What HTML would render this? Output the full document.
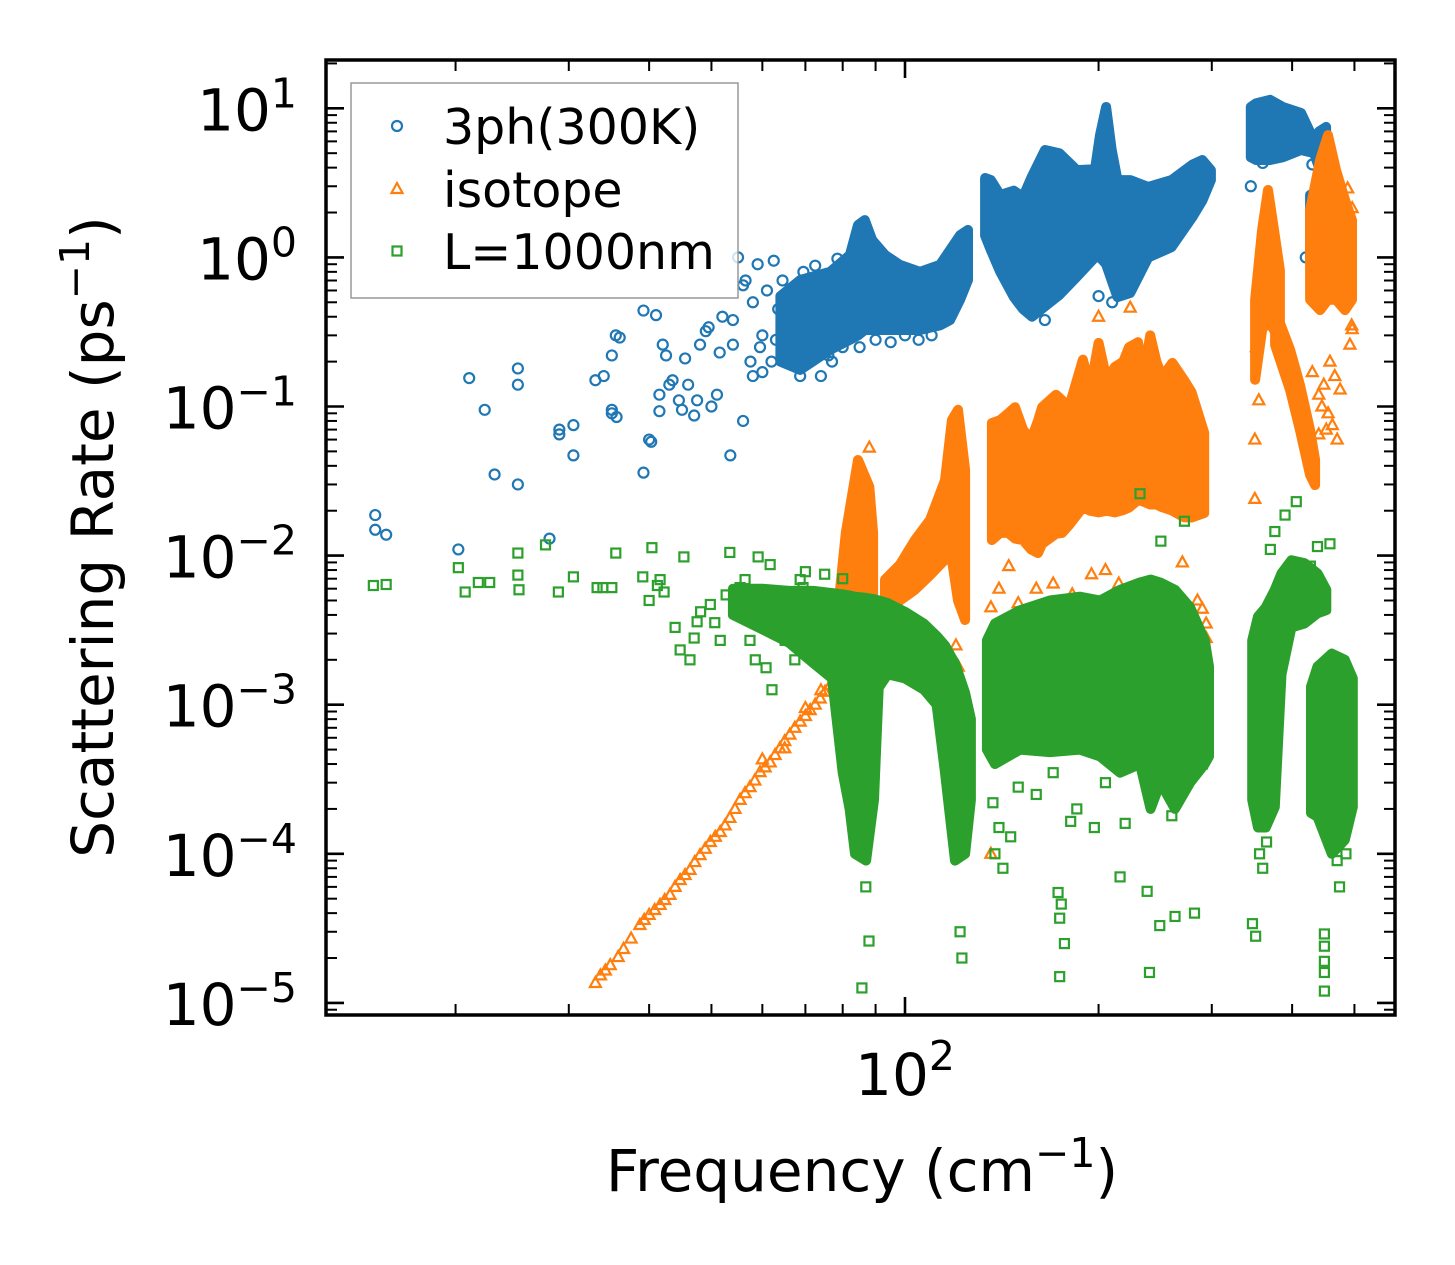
<!DOCTYPE html>
<html><head><meta charset="utf-8"><title>Scattering Rate vs Frequency</title>
<style>html,body{margin:0;padding:0;background:#fff;}svg{display:block;font-family:"DejaVu Sans","Liberation Sans",sans-serif;}</style>
</head><body>
<svg id="chart" xmlns="http://www.w3.org/2000/svg" width="1455" height="1265" viewBox="0 0 1455 1265">
<rect x="0" y="0" width="1455" height="1265" fill="#fff"/>
<defs><clipPath id="plotclip"><rect x="326" y="60" width="1069" height="955"/></clipPath></defs>
<g id="marks" clip-path="url(#plotclip)"></g>
<g id="axes"></g>
</svg>
<script>
// ---- data (frequency cm^-1, scattering rate ps^-1) ----
const blueScatter = [[15,0.0187],[15,0.0149],[15.6,0.0138],[20.2,0.011],[21,0.155],[22.2,0.095],[23,0.035],[25,0.18],[25,0.14],[25,0.03],[28,0.013],[29,0.07],[29,0.065],[30.5,0.047],[30.5,0.075],[33,0.15],[34,0.16],[35,0.22],[35.5,0.3],[36,0.29],[35,0.095],[35.6,0.085],[35,0.09],[39.2,0.036],[39.2,0.44],[40,0.06],[40.3,0.058],[41,0.41],[41.5,0.093],[41.5,0.12],[42,0.26],[42.5,0.22],[43,0.14],[43.5,0.15],[44.5,0.11],[45,0.095],[45.5,0.21],[46,0.14],[47,0.087],[47.5,0.11],[48,0.26],[49,0.32],[49.5,0.34],[50,0.1],[51,0.12],[51.5,0.23],[53.5,0.047],[54,0.38],[55,1.0],[56,0.65],[56.5,0.7],[56,0.08],[57.5,0.2],[58,0.16],[59,0.9],[59.5,0.25],[60,0.3],[61,0.6],[62,0.2],[62.5,0.95],[63.5,0.45],[64.5,0.7],[65.5,0.32],[66.5,0.52],[67.5,0.24],[68.7,0.16],[69.5,0.8],[70.5,0.6],[71.5,0.45],[72.5,0.88],[74,0.16],[74,0.52],[75,0.75],[76,0.22],[77.5,0.32],[78.5,0.98],[79.5,0.6],[81,0.32],[82,0.88],[54,0.26],[52,0.4],[58,0.5],[60,0.17],[63,0.28],[66,0.2],[70,0.25],[73,0.3],[77,0.2],[80,0.25],[85,0.25],[90,0.28],[95,0.27],[100,0.3],[105,0.28],[110,0.3],[165,0.38],[200,0.55],[210,0.5],[360,4.3],[430,4.2],[345,3.0],[420,1.0],[445,0.75],[470,0.65]];
const orangeScatter = [[33,1.36e-5],[33.6,1.53e-5],[34.2,1.65e-5],[34.8,1.79e-5],[35.8,2.03e-5],[36.5,2.3e-5],[37.5,2.7e-5],[38.7,3.33e-5],[39.3,3.6e-5],[40,3.89e-5],[40.8,4.2e-5],[41.6,4.54e-5],[42.3,4.9e-5],[43.1,5.3e-5],[43.9,6e-5],[44.7,6.67e-5],[45.5,7.2e-5],[46.3,7.8e-5],[47.1,8.8e-5],[48,9.8e-5],[48.9,1.08e-4],[49.8,1.2e-4],[50.7,1.3e-4],[51.6,1.4e-4],[52.5,1.55e-4],[53.4,1.74e-4],[54.4,2e-4],[55.4,2.3e-4],[56.4,2.55e-4],[57.4,2.8e-4],[58.4,3.1e-4],[59.5,3.53e-4],[60,4.3e-4],[60.6,3.8e-4],[61.7,4.1e-4],[62.8,4.6e-4],[63.9,5.1e-4],[65,5.7e-4],[65,5.1e-4],[66.2,6.3e-4],[67.4,7e-4],[68.7,7.7e-4],[70,8.4e-4],[70,9.5e-4],[71.2,9.2e-4],[72.5,1.0e-3],[73.8,1.1e-3],[74,1.25e-3],[75.1,1.22e-3],[76.5,1.35e-3],[77.6,1.5e-3],[78.7,1.65e-3],[88,0.053],[200,0.40],[224,0.46],[350,0.06],[350,0.024],[352,0.25],[355,0.11],[136,0.0045],[138,0.003],[140,0.006],[145,0.0085],[150,0.0048],[160,0.006],[170,0.0065],[182,0.0055],[195,0.0075],[205,0.008],[215,0.0065],[230,0.0055],[250,0.006],[270,0.009],[285,0.005],[290,0.0044],[294,0.0028],[294,0.0035],[136,1e-4],[121,1.8e-3],[122,1.2e-3],[120,2.5e-3],[89,1e-3],[488,2.9],[496,2.14],[496,0.33],[492,0.26],[430,0.17],[440,0.12],[445,0.1],[455,0.09],[462,0.075],[470,0.06],[448,0.14],[458,0.2],[466,0.16],[475,0.13],[452,0.07],[440,0.065],[480,0.9],[490,1.5],[495,0.35]];
const greenScatter = [[14.9,6.3e-3],[15.6,6.4e-3],[20.2,8.3e-3],[20.7,5.7e-3],[21.7,6.6e-3],[22.6,6.6e-3],[25,0.0104],[25,7.4e-3],[25.1,5.9e-3],[27.6,0.0118],[28.9,5.7e-3],[30.5,7.2e-3],[33.2,6.1e-3],[33.9,6.1e-3],[35,6.1e-3],[35.5,0.0104],[39.1,7.2e-3],[40,5e-3],[40.4,0.0113],[41.2,6.3e-3],[41.6,6.9e-3],[42.2,5.7e-3],[43.9,3.3e-3],[44.7,2.33e-3],[45.3,9.8e-3],[46.3,2e-3],[47,2.8e-3],[47.5,3.6e-3],[48.1,4.2e-3],[49.8,4.7e-3],[50.6,3.55e-3],[51.6,2.7e-3],[52.7,5.45e-3],[53.4,0.0105],[54.4,5e-3],[55.4,6.1e-3],[56.4,6.9e-3],[57.4,2.7e-3],[58.5,2e-3],[59.1,9.8e-3],[59.9,4.7e-3],[60.8,1.77e-3],[61.7,8.7e-3],[62.1,1.26e-3],[63.9,5.45e-3],[65.1,2.7e-3],[66.2,3.6e-3],[67.4,2e-3],[68.7,6.9e-3],[69.4,6.1e-3],[232,0.026],[272,0.017],[250,0.0125],[406,0.023],[390,0.0187],[376,0.0145],[370,0.011],[458,0.012],[438,0.0115],[427,0.0085],[85.7,1.26e-5],[87.9,2.6e-5],[86.9,6e-5],[121.8,3e-5],[122.6,2e-5],[173,5.5e-5],[174,3.7e-5],[175,4.6e-5],[177,2.5e-5],[174,1.5e-5],[238,5.6e-5],[249,3.3e-5],[263,3.8e-5],[282,4.0e-5],[240,1.6e-5],[347,3.4e-5],[351,2.8e-5],[449,2.9e-5],[449,2.4e-5],[449,1.9e-5],[449,1.6e-5],[449,1.2e-5],[474,6e-5],[197,1.5e-4],[181,1.65e-4],[146,1.3e-4],[216,7e-5],[137,2.2e-4],[140,1.5e-4],[138,1e-4],[142,8e-5],[150,2.8e-4],[160,2.5e-4],[170,3.5e-4],[185,2e-4],[205,3e-4],[220,1.6e-4],[240,2.5e-4],[260,1.8e-4],[275,3e-4],[290,4e-4],[356,1e-4],[360,8e-5],[365,1.2e-4],[470,9e-5],[485,1e-4],[75,7.5e-3],[70,7.8e-3],[80,7e-3]];
// dense clusters: [frequency, lower rate, upper rate]
const blueBand1 = [[64,0.2,0.55],[68.7,0.176,0.705],[76.5,0.24,0.80],[82.1,0.28,1.04],[84.5,0.30,1.65],[86.6,0.326,1.78],[88.9,0.326,1.31],[93.1,0.326,1.04],[98.2,0.326,0.89],[105.5,0.326,0.80],[113.3,0.35,0.89],[117.5,0.38,1.12],[121.8,0.52,1.41],[125.3,0.705,1.53]];
const blueBand2 = [[133.2,1.4,3.41],[136,1.12,3.3],[140.6,0.8,2.62],[147.7,0.542,2.8],[152.6,0.45,2.54],[157.6,0.40,3.5],[165.1,0.47,5.25],[173.8,0.56,5.0],[185,0.74,3.85],[197.5,1.0,3.9],[201,1.0,6.6],[205.5,0.9,10.2],[209.6,0.7,5.25],[214,0.542,3.3],[224,0.577,3.3],[239,1.0,2.97],[259.7,1.17,3.3],[280,1.87,4.2],[290,2.4,4.5],[299,3.3,3.85]];
const blueBand3 = [[345,4.7,10.2],[351.5,4.5,10.8],[369.6,4.5,11.4],[387,4.7,10.2],[413,5.25,9.3],[432.6,5.0,6.1],[440.5,4.0,7.0],[451.8,4.7,7.5]];
const blueBand4 = [[426.6,0.96,2.62],[440,0.8,2.83],[458,0.705,2.83],[475,0.6,2.4],[492,0.56,1.92]];
const orangeBand1 = [[78,1.6e-3,3e-3],[80.9,2.33e-3,0.0142],[84.5,2.7e-3,0.0438],[88,2.7e-3,0.029],[89.2,2.7e-3,0.0142]];
const orangeBand2 = [[93.1,3.7e-3,6.9e-3],[98.2,5e-3,8.7e-3],[103.6,5.9e-3,0.0127],[109.4,7.4e-3,0.0174],[115.4,9.4e-3,0.032],[118.3,9.4e-3,0.081],[120.9,5e-3,0.095],[124,3.7e-3,0.0376]];
const orangeBand3 = [[136.5,0.0127,0.0774],[140.6,0.0142,0.081],[144.7,0.0142,0.09],[148.3,0.013,0.099],[152.6,0.0127,0.07],[157,0.011,0.0597],[161,0.0104,0.08],[163.4,0.012,0.099],[171.7,0.014,0.12],[175.5,0.0142,0.11],[179.9,0.016,0.099],[189.1,0.0211,0.206],[194,0.02,0.13],[200,0.0195,0.267],[206,0.02,0.15],[212,0.0195,0.184],[218.5,0.0202,0.2],[223,0.021,0.25],[230.3,0.0236,0.27],[235,0.023,0.16],[240.6,0.022,0.30],[246,0.022,0.2],[251.1,0.0211,0.158],[260.5,0.02,0.196],[271.7,0.0181,0.15],[279,0.018,0.125],[292,0.0193,0.0665]];
const orangeBand4 = [[350.3,0.151,0.52],[359.2,0.326,1.53],[366.9,0.38,2.83],[374.9,0.326,1.53],[382.8,0.326,0.82]];
const orangeBand5 = [[376.3,0.258,0.443],[397.1,0.129,0.24],[411.5,0.0695,0.139],[426.6,0.0347,0.0695],[434.3,0.0297,0.0438]];
const orangeBand6 = [[426.6,0.52,2.08],[442.1,0.443,4.5],[454.9,0.52,6.6],[468.1,0.52,3.85],[483.4,0.443,2.43],[495.7,0.52,1.78]];
const greenBand1 = [[54,4.0e-3,6.0e-3],[60,3.2e-3,6.0e-3],[66,2.6e-3,5.8e-3],[72,1.9e-3,5.8e-3],[77,1.5e-3,5.6e-3],[80,3.5e-4,5.5e-3],[82,2.0e-4,5.4e-3],[83.6,1.0e-4,5.3e-3],[87,9e-5,5.2e-3],[89.5,2.3e-4,5.1e-3],[91,1.3e-3,5.0e-3],[94,1.6e-3,4.8e-3],[100,1.5e-3,4.2e-3],[107,1.26e-3,3.5e-3],[112,1.0e-3,2.9e-3],[115.4,3.5e-4,2.5e-3],[118,1.5e-4,2.1e-3],[119.6,9e-5,1.9e-3],[124,1e-4,1.2e-3],[126.6,2.3e-4,8e-4]];
const greenBand2 = [[134.1,5e-4,2.7e-3],[138,4e-4,3.5e-3],[151,5e-4,4.3e-3],[168,4.8e-4,5e-3],[187,5e-4,5.3e-3],[201,4.5e-4,5e-3],[216,3.5e-4,5.9e-3],[232,4e-4,6.6e-3],[241,2e-4,6.9e-3],[249.5,3e-4,6.6e-3],[263,2e-4,5.9e-3],[277.6,3e-4,4.5e-3],[292.6,4e-4,2.7e-3],[297,4.5e-4,1.8e-3]];
const greenBand3 = [[346.7,2.3e-4,2.7e-3],[354,1.5e-4,3.9e-3],[364,1.5e-4,4.5e-3],[376,2.06e-4,5.9e-3],[385,1.6e-3,7.6e-3],[399,3.3e-3,9.3e-3],[418,3.5e-3,8.9e-3],[438,4.1e-3,7.6e-3],[452,4.3e-3,5.9e-3]];
const greenBand4 = [[428,1.88e-4,1.32e-3],[438,1.77e-4,1.8e-3],[461,1.0e-4,2.2e-3],[483,1.24e-4,2.0e-3],[497,2.06e-4,1.5e-3]];
const xMinorTicks = [20,30,40,50,60,70,80,90,200,300,400,500];
const xMajorTicks = [100];
const xTickExps = ["2"];
const yTickExps = [-5,-4,-3,-2,-1,0,1];
const yTickLabels = ["\u22125","\u22124","\u22123","\u22122","\u22121","0","1"];
const legendLabels = ["3ph(300K)","isotope","L=1000nm"];

// ---- axis functions ----
const X0 = 905, XD = 643, Y1 = 108.3, YD = 149.1;
function X(f){ return X0 + XD*Math.log10(f/100); }
function Y(r){ return Y1 + YD*(1 - Math.log10(r)); }

const NS = "http://www.w3.org/2000/svg";
const marks = document.getElementById('marks');
const axes = document.getElementById('axes');
function mk(tag, attrs, parent){ const e=document.createElementNS(NS,tag); for(const k in attrs) e.setAttribute(k,attrs[k]); parent.appendChild(e); return e; }

const BLUE="#1f77b4", ORANGE="#ff7f0e", GREEN="#2ca02c";

function band(data, color, name, parent){
  const top = data.map(d=>X(d[0]).toFixed(1)+","+Y(d[2]).toFixed(1));
  const bot = data.slice().reverse().map(d=>X(d[0]).toFixed(1)+","+Y(d[1]).toFixed(1));
  const p = mk('polygon',{points: top.concat(bot).join(' '), fill: color, stroke: color, 'stroke-width': 10, 'stroke-linejoin':'round'}, parent);
  
  
}
function marker(kind, cx, cy, color, parent){
  let e;
  if(kind==='circle') e = mk('circle',{cx:cx,cy:cy,r:5,fill:'none',stroke:color,'stroke-width':2.2},parent);
  else if(kind==='tri') e = mk('polygon',{points:`${cx},${cy-6} ${cx-5.5},${cy+4} ${cx+5.5},${cy+4}`,fill:'none',stroke:color,'stroke-width':2.2,'stroke-linejoin':'miter'},parent);
  else e = mk('rect',{x:cx-4.5,y:cy-4.5,width:9,height:9,fill:'none',stroke:color,'stroke-width':2.2},parent);
  return e;
}
function series(name, kind, color, pts, bands){
  const g = mk('g',{},marks);
  
  
  bands.forEach((b,i)=>band(b,color,name+'-cluster-'+(i+1),g));
  pts.forEach(d=>{
    const e = marker(kind, X(d[0]), Y(d[1]), color, g);
    
    
  });
}
series('three-phonon','circle',BLUE,blueScatter,[blueBand1,blueBand2,blueBand3,blueBand4]);
series('isotope','tri',ORANGE,orangeScatter,[orangeBand1,orangeBand2,orangeBand3,orangeBand4,orangeBand5,orangeBand6]);
series('boundary','square',GREEN,greenScatter,[greenBand1,greenBand2,greenBand3,greenBand4]);

// ---- legend ----
const lg = mk('g',{},document.getElementById('chart'));


mk('rect',{x:351,y:83,width:387,height:215,fill:'#fff','fill-opacity':0.8,stroke:'#999','stroke-width':1.5},lg);
const kinds=['circle','tri','square'], cols=[BLUE,ORANGE,GREEN], rowsY=[126,189,251];
legendLabels.forEach((t,i)=>{
  const m = marker(kinds[i],397,rowsY[i],cols[i],lg);
  
  
  const tx = mk('text',{x:443,y:rowsY[i]+18,'font-size':49,fill:'#000'},lg);
  tx.textContent = t;
  
  
});

// ---- axes frame, ticks, labels ----
const L=326,R=1395,T=60,B=1015;
const frame = mk('rect',{x:L,y:T,width:R-L,height:B-T,fill:'none',stroke:'#000','stroke-width':3.5},axes);


function tick(x1,y1,x2,y2,w){ const t=mk('line',{x1:x1,y1:y1,x2:x2,y2:y2,stroke:'#000','stroke-width':w},axes);   }
xMinorTicks.forEach(v=>{ const x=X(v); tick(x,B,x,B-11,2); tick(x,T,x,T+11,2); });
xMajorTicks.forEach((v,i)=>{
  const x=X(v); tick(x,B,x,B-18,2.6); tick(x,T,x,T+18,2.6);
  const t=mk('text',{x:x,y:1095,'font-size':58,'text-anchor':'middle',fill:'#000'},axes);
  
  
  t.appendChild(document.createTextNode('10'));
  const s=mk('tspan',{dy:-25,'font-size':41},t); s.textContent=xTickExps[i];
});
for(let e=-6;e<=1;e++){ for(let d=2;d<=9;d++){ const v=d*Math.pow(10,e); const y=Y(v); if(y<T+2||y>B-2) continue; tick(L,y,L+11,y,2); tick(R,y,R-11,y,2);} }
yTickExps.forEach((e,i)=>{
  const y=Y(Math.pow(10,e)); tick(L,y,L+18,y,2.6); tick(R,y,R-18,y,2.6);
  const t=mk('text',{x:297,y:y+22,'font-size':58,'text-anchor':'end',fill:'#000'},axes);
  
  
  t.appendChild(document.createTextNode('10'));
  const s=mk('tspan',{dy:-23,'font-size':41},t); s.textContent=yTickLabels[i];
});
const xt=mk('text',{x:862,y:1191,'font-size':58,'text-anchor':'middle',fill:'#000'},axes);


xt.appendChild(document.createTextNode('Frequency (cm'));
const xs=mk('tspan',{dy:-24,'font-size':41},xt); xs.textContent='\u22121';
const xc=mk('tspan',{dy:24},xt); xc.textContent=')';
const yt=mk('text',{transform:'translate(113,537) rotate(-90)','font-size':58,'text-anchor':'middle',fill:'#000'},axes);


yt.appendChild(document.createTextNode('Scattering Rate (ps'));
const ys=mk('tspan',{dy:-24,'font-size':41},yt); ys.textContent='\u22121';
const yc=mk('tspan',{dy:24},yt); yc.textContent=')';
</script>
</body></html>
